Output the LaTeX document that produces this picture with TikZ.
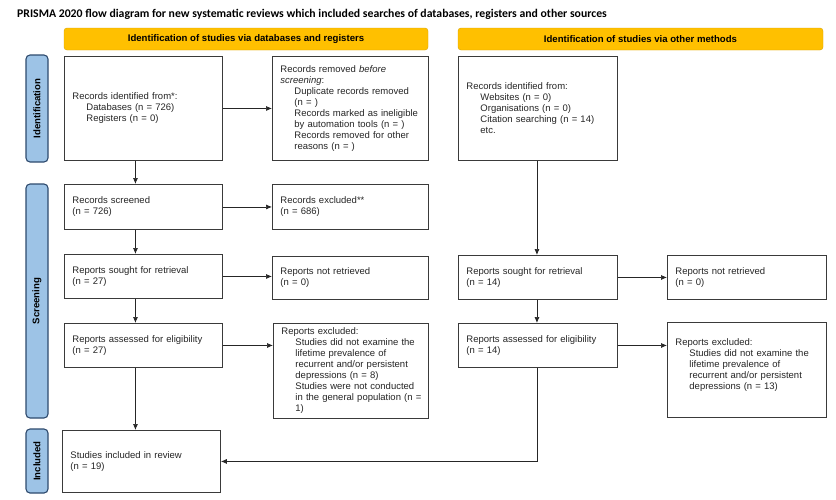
\documentclass[tikz,border=0pt]{standalone}
\usepackage{fontspec}
\setmainfont{Liberation Sans}
\newfontfamily\carlito{Carlito}
\definecolor{prYellow}{HTML}{FFC000}
\definecolor{prYellowEdge}{HTML}{D9A400}
\definecolor{prBlue}{HTML}{9DC3E6}
\definecolor{prBlueEdge}{HTML}{2E4A6E}
\definecolor{prText}{HTML}{262626}
\definecolor{prEdge}{HTML}{3A3A3A}
\usetikzlibrary{positioning,arrows.meta}
\newcommand{\ind}{\hspace*{14pt}}

\tikzset{
  recbox/.style={draw=prEdge, line width=0.9pt, fill=white, text=prText,
    font=\fontsize{9.5}{11}\selectfont, align=left, anchor=north west,
    inner xsep=8pt, inner ysep=0pt},
  header/.style={draw=prYellowEdge, fill=prYellow, rounded corners=3pt,
    font=\fontsize{9.6}{11}\selectfont\bfseries, inner sep=0pt, minimum height=22pt},
  phase/.style={draw=prBlueEdge, fill=prBlue, rounded corners=4pt, line width=1.1pt,
    font=\fontsize{9.6}{11}\selectfont\bfseries, rotate=90, inner sep=0pt, minimum height=22pt},
  flow/.style={-{Latex[length=6pt,width=5pt]}, line width=0.7pt, black!85}
}

\begin{document}
\begin{tikzpicture}[x=1pt, y=-1pt]
  \useasboundingbox[fill=white] (0,0) rectangle (836,499);

  % Title
  \node[anchor=west, inner sep=0pt, font=\carlito\fontsize{11.75}{13}\selectfont\bfseries] (title) at (17,14)
    {PRISMA 2020 flow diagram for new systematic reviews which included searches of databases, registers and other sources};

  % Headers
  \node[header, minimum width=364pt] (hdrdb) at (246,39) {Identification of studies via databases and registers};
  \node[header, minimum width=365pt] (hdrother) at (640.5,39) {Identification of studies via other methods};

  % Phases
  \node[phase, minimum width=107pt] (phident) at (37,108.5) {Identification};
  \node[phase, minimum width=234pt] (phscreen) at (37,301) {Screening};
  \node[phase, minimum width=64pt] (phincl) at (37,461) {Included};

  % Databases and registers
  \node[recbox, text width=142pt, minimum height=104pt] (ident) at (64,56)
    {Records identified from*:\\ \ind Databases (n = 726)\\ \ind Registers (n = 0)};
  \node[recbox, text width=140pt, minimum height=104pt] (removed) at (272,56)
    {Records removed \emph{before}\\ \emph{screening}:\\ \ind Duplicate records removed\\ \ind (n = )\\
     \ind Records marked as ineligible\\ \ind by automation tools (n = )\\ \ind Records removed for other\\ \ind reasons (n = )};
  \node[recbox, text width=142pt, minimum height=45pt] (screened) at (64,184) {Records screened\\ (n = 726)};
  \node[recbox, text width=140pt, minimum height=45pt] (excluded) at (272,184) {Records excluded**\\ (n = 686)};
  \node[recbox, text width=142pt, minimum height=44pt] (soughtL) at (64,254) {Reports sought for retrieval\\ (n = 27)};
  \node[recbox, text width=140pt, minimum height=43pt] (notretL) at (272,256) {Reports not retrieved\\ (n = 0)};
  \node[recbox, text width=142pt, minimum height=44pt] (assessedL) at (64,323) {Reports assessed for eligibility\\ (n = 27)};
  \node[recbox, text width=139pt, minimum height=95pt] (exclL) at (273,323)
    {Reports excluded:\\ \ind Studies did not examine the\\ \ind lifetime prevalence of\\ \ind recurrent and/or persistent\\
     \ind depressions (n = 8)\\ \ind Studies were not conducted\\ \ind\mbox{in the general population (n =}\\ \ind 1)};
  \node[recbox, text width=142pt, minimum height=62pt] (included) at (62,430) {Studies included in review\\ (n = 19)};

  % Other methods
  \node[recbox, text width=143pt, minimum height=104pt] (other) at (458,56)
    {Records identified from:\\ \ind Websites (n = 0)\\ \ind Organisations (n = 0)\\ \ind Citation searching (n = 14)\\ \ind etc.};
  \node[recbox, text width=143pt, minimum height=44pt] (soughtR) at (458,255) {Reports sought for retrieval\\ (n = 14)};
  \node[recbox, text width=143pt, minimum height=44pt] (notretR) at (667,255) {Reports not retrieved\\ (n = 0)};
  \node[recbox, text width=143pt, minimum height=44pt] (assessedR) at (458,323) {Reports assessed for eligibility\\ (n = 14)};
  \node[recbox, text width=143pt, minimum height=95pt] (exclR) at (667,322)
    {Reports excluded:\\ \ind Studies did not examine the\\ \ind lifetime prevalence of\\ \ind recurrent and/or persistent\\
     \ind depressions (n = 13)\\ \mbox{}};

  % Connectors
  \draw[flow] ([xshift=-8pt]ident.south) -- ([xshift=-8pt]screened.north);
  \draw[flow] ([xshift=-8pt]screened.south) -- ([xshift=-8pt]soughtL.north);
  \draw[flow] ([xshift=-8pt]soughtL.south) -- ([xshift=-8pt]assessedL.north);
  \draw[flow] ([xshift=-8pt]assessedL.south) -- ([xshift=-8pt]assessedL.south |- included.north);
  \draw[flow] (ident.east) -- (removed.west);
  \draw[flow] (screened.east) -- (excluded.west);
  \draw[flow] (soughtL.east) -- (soughtL.east -| notretL.west);
  \draw[flow] (assessedL.east) -- (assessedL.east -| exclL.west);

  \draw[flow] ([xshift=-1pt]other.south) -- ([xshift=-1pt]soughtR.north);
  \draw[flow] ([xshift=-1pt]soughtR.south) -- ([xshift=-1pt]assessedR.north);
  \draw[flow] (soughtR.east) -- (notretR.west);
  \draw[flow] (assessedR.east) -- (assessedR.east -| exclR.west);
  \draw[flow] ([xshift=-1pt]assessedR.south) |- (included.east);
\end{tikzpicture}
\end{document}
